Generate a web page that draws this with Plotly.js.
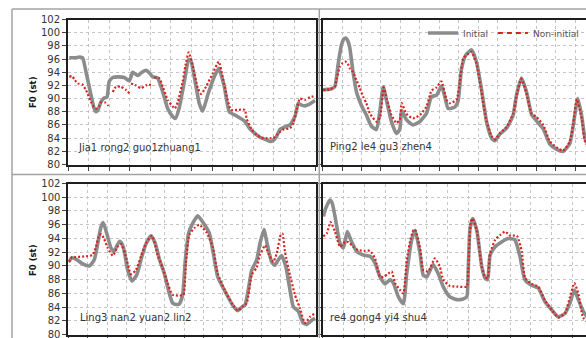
<!DOCTYPE html>
<html>
<head>
<meta charset="utf-8">
<script src="https://cdn.plot.ly/plotly-3.0.1.min.js"></script>
<style>
html,body{margin:0;padding:0;overflow:hidden;background:#fff;}
#chart{width:640px;height:338px;}
</style>
</head>
<body>
<div id="chart"></div>
<script>
// ---------------- DATA (x in tenths of a grid step, y = F0 in semitones) ----------------
// Panel 1: Jia1 rong2 guo1zhuang1
const x_tl_init = [0.6,3.4,5.8,7.1,8.7,11.2,12.6,13.6,14.6,16.0,17.5,18.9,20.0,21.7,24.3,27.3,29.8,31.4,33.8,35.9,37.9,39.8,41.1,43.5,46.0,48.4,50.8,52.2,54.0,56.5,58.6,59.5,61.3,63.7,65.4,67.8,71.0,73.2,75.9,78.3,81.6,84.8,86.4,88.3,90.0,91.6,93.3,95.9,98.1,99.5,101.2,102.9,105.3,107.8,110.2,111.8,113.4,115.0,117.5,119.9];
const y_tl_init = [96.2,96.2,96.3,96.2,94.1,90.5,88.6,88.0,88.3,89.5,90.1,90.2,92.6,93.2,93.3,93.2,92.7,94.0,93.5,94.0,94.3,93.8,93.3,93.1,91.0,88.5,87.3,87.0,88.6,92.6,95.9,95.9,93.3,89.3,88.1,90.5,93.3,94.6,91.8,88.0,87.4,86.8,86.3,85.4,84.9,84.5,84.1,83.8,83.5,83.6,84.2,85.3,85.7,86.0,87.3,89.3,89.0,88.9,89.2,89.7];
const x_tl_non = [0.6,1.9,3.4,4.7,7.1,8.7,11.2,12.6,13.8,15.0,16.0,18.0,19.4,20.4,null,21.7,23.3,25.7,28.2,29.8,null,30.6,33.0,35.4,37.9,40.3,null,41.9,44.3,46.0,48.4,50.8,51.9,53.3,55.7,57.0,58.6,60.5,63.0,64.6,67.0,70.2,73.2,75.1,77.5,79.1,83.0,85.9,86.7,89.2,91.6,93.7,96.5,99.7,101.3,104.5,107.8,109.4,111.0,112.6,115.0,117.5,119.9];
const y_tl_non = [93.3,93.4,92.8,92.3,92.1,91.3,89.5,88.7,88.5,88.8,89.4,89.4,89.0,89.2,null,91.0,91.8,91.8,91.3,90.8,null,92.3,92.0,91.6,92.0,92.1,null,93.2,93.1,91.8,89.8,88.8,88.5,89.5,92.6,95.0,97.0,95.1,91.6,90.7,91.8,93.8,95.6,93.3,89.8,88.3,88.3,88.3,87.0,85.3,84.5,84.1,84.0,84.0,84.5,85.3,85.5,86.3,88.3,90.0,89.8,90.2,90.4];

// Panel 2: Ping2 le4 gu3 zhen4
const x_tr_init = [0.2,2.1,3.6,6.2,7.9,9.6,10.8,11.9,12.9,13.9,15.6,17.4,19.9,22.5,25.1,27.7,29.4,31.2,32.8,35.4,38.0,39.7,40.7,43.1,46.5,50.0,53.5,56.0,58.6,61.2,62.9,64.6,68.0,69.7,71.5,73.7,76.6,79.2,81.8,84.4,87.0,88.7,91.2,94.7,98.1,99.8,102.4,105.0,107.6,110.2,113.6,117.0,120.5,123.9,127.3,129.0,131.4,133.4,135.1,137.6];
const y_tr_init = [91.3,91.4,91.4,91.8,95.1,98.1,99.0,99.2,98.8,97.8,94.1,91.0,89.0,87.5,85.8,85.3,88.0,91.8,89.8,86.5,84.7,85.3,88.2,86.8,86.0,86.5,87.8,90.3,90.5,91.9,90.3,88.5,88.7,89.6,94.5,96.6,97.4,95.6,91.4,86.5,84.0,83.6,84.6,85.5,87.5,90.5,93.1,91.0,87.6,86.6,85.4,83.1,82.3,82.0,83.2,85.8,90.0,87.4,84.0,82.5];
const x_tr_non = [0.2,3.6,6.2,7.2,8.8,10.3,11.6,12.9,13.9,15.6,17.4,19.1,20.8,22.5,24.2,27.7,29.6,31.4,33.0,35.4,38.0,39.7,40.7,43.1,46.5,50.0,53.5,56.0,58.6,61.2,63.8,65.5,68.9,70.6,72.3,73.7,76.6,79.2,81.8,84.4,87.0,88.7,91.2,94.7,98.1,99.8,102.3,105.0,107.6,110.2,113.6,117.0,120.5,123.9,127.3,129.0,130.9,133.4,135.1,137.6];
const y_tr_non = [91.3,91.4,91.8,93.0,94.8,95.4,95.6,95.3,94.6,94.0,92.8,91.6,90.3,89.3,87.8,86.5,87.2,91.7,90.0,87.5,86.3,86.8,89.3,87.7,87.0,87.5,88.8,91.2,91.7,92.6,89.8,89.3,89.8,92.5,96.0,96.5,97.1,95.3,91.0,86.6,84.3,83.8,84.7,85.7,87.7,90.3,93.0,90.8,87.7,87.2,86.0,83.5,82.6,82.1,83.5,86.0,89.9,87.0,83.5,82.3];

// Panel 3: Ling3 nan2 yuan2 lin2
const x_bl_init = [0.1,1.9,3.9,7.4,10.8,13.4,15.2,16.9,18.1,19.8,22.1,23.8,25.2,26.6,27.8,29.0,30.7,33.0,35.4,38.1,40.2,42.8,45.0,47.1,49.7,52.3,54.0,55.7,57.5,59.2,60.6,62.3,64.4,67.0,69.6,73.0,74.8,77.4,80.8,85.1,87.7,90.3,91.5,93.2,95.0,97.6,99.3,101.3,103.1,105.3,107.0,108.8,110.5,112.7,114.8,116.5,119.1,121.7,123.5,126.1,127.8];
const y_bl_init = [90.6,91.2,91.0,90.3,90.0,90.9,93.3,95.7,96.3,94.8,92.6,92.1,93.0,93.6,93.2,92.1,89.4,87.8,88.7,91.4,93.2,94.4,93.3,91.0,88.9,86.0,84.6,84.4,84.5,85.8,90.9,94.8,96.2,97.3,96.4,94.8,92.3,88.4,86.5,84.3,83.5,84.1,84.3,86.5,89.4,90.9,93.3,95.3,93.1,90.6,90.1,90.9,91.5,89.9,86.5,84.1,83.4,81.7,81.5,82.1,82.4];
const x_bl_non = [0.1,1.9,3.9,9.1,12.6,14.3,16.0,17.1,18.4,20.4,23.0,25.5,27.3,29.8,32.4,35.0,37.6,40.2,43.3,46.3,48.9,51.4,54.0,57.5,59.6,60.9,62.6,65.2,67.8,71.3,74.8,77.4,80.8,85.1,87.7,90.3,92.4,95.0,97.6,99.3,101.9,103.6,106.2,107.9,110.0,110.9,112.2,114.8,117.4,120.0,122.6,125.2,127.8];
const y_bl_non = [90.6,91.3,91.3,91.4,91.6,92.8,94.5,94.6,94.0,92.6,91.5,92.8,93.2,91.4,88.8,89.4,91.4,93.3,94.4,91.6,89.7,87.5,85.8,85.7,85.8,90.4,94.5,95.5,96.0,95.0,92.8,88.9,86.6,84.4,83.5,84.1,84.6,88.7,89.8,91.6,93.0,91.8,90.6,91.8,94.5,94.7,92.1,88.7,85.8,83.8,81.7,82.6,83.1];

// Panel 4: re4 gong4 yi4 shu4
const x_br_init = [0.4,1.7,3.6,4.6,6.0,8.4,10.0,11.9,14.0,16.4,19.6,22.8,25.2,27.6,30.0,32.4,34.0,36.4,38.8,40.4,42.8,44.4,46.8,48.3,50.0,53.1,55.5,57.9,61.1,64.4,67.4,69.2,69.9,70.7,72.0,74.0,76.4,78.0,79.2,80.4,82.8,85.9,89.1,92.3,94.7,97.1,100.3,103.5,106.7,110.0,113.1,116.3,118.7,120.8,122.7,125.1,128.4];
const y_br_init = [97.2,98.5,99.6,99.2,97.2,93.3,92.6,95.0,93.5,92.1,91.6,91.4,90.4,88.4,87.4,88.0,87.5,85.5,84.5,88.9,93.8,95.2,91.8,88.7,88.4,90.2,88.9,87.0,85.5,85.1,85.2,85.5,89.4,95.2,96.9,95.2,89.9,88.2,88.0,91.6,92.8,93.5,94.0,93.8,91.4,88.0,87.2,86.8,84.8,83.6,82.6,83.1,84.6,86.5,85.1,83.4,82.0];
const x_br_non = [0.4,2.0,3.9,6.0,8.4,10.8,12.4,14.8,17.2,20.4,22.8,25.2,27.6,29.2,31.6,33.2,34.8,37.2,38.8,40.4,42.3,43.6,44.4,46.8,48.3,50.7,53.9,56.3,57.9,61.1,64.9,69.2,69.9,71.1,72.0,74.0,76.4,78.0,79.2,80.4,82.8,85.2,87.6,90.0,93.2,95.6,97.1,100.3,103.5,106.7,110.0,113.1,116.3,118.7,120.8,122.7,125.0,128.4];
const y_br_non = [94.3,94.7,96.4,95.0,92.8,93.5,93.5,92.8,92.3,92.2,92.2,91.1,88.4,88.4,88.9,89.2,87.5,86.5,86.0,90.8,94.0,95.2,95.3,92.6,89.4,89.2,91.1,89.9,88.0,87.1,87.0,87.0,89.4,96.4,96.9,95.2,89.9,88.4,88.2,91.8,93.8,94.5,95.0,94.4,94.4,92.1,88.3,87.4,87.0,85.0,83.6,82.5,83.1,85.5,87.5,86.0,82.5,81.5];

const syllableLabels = ["Jia1 rong2 guo1zhuang1","Ping2 le4 gu3 zhen4","Ling3 nan2 yuan2 lin2","re4 gong4 yi4 shu4"];
const seriesNames = ["Initial","Non-initial"];
const yTitle = "F0 (st)";
const yRange = [80,102];

// ---------------- STYLE / LAYOUT ----------------
const W = 640, H = 338;
const GRAY = '#8c8c8c', RED = '#d8231f';
const dx = (a,b)=>[a/W,b/W];
const dy = (t,b)=>[1-b/H,1-t/H];

function initTrace(x,y,ax){
  return {x:x,y:y,xaxis:'x'+ax,yaxis:'y'+ax,type:'scatter',mode:'lines',name:seriesNames[0],
    showlegend:false,connectgaps:false,line:{color:GRAY,width:3.6,shape:'spline',smoothing:0.5},hoverinfo:'skip'};
}
function nonTrace(x,y,ax){
  return {x:x,y:y,xaxis:'x'+ax,yaxis:'y'+ax,type:'scatter',mode:'lines',name:seriesNames[1],
    showlegend:false,connectgaps:false,line:{color:RED,width:2.2,dash:'2px,2px',shape:'spline',smoothing:0.5},hoverinfo:'skip'};
}
const data = [
  initTrace(x_tl_init,y_tl_init,''), nonTrace(x_tl_non,y_tl_non,''),
  initTrace(x_tr_init,y_tr_init,'2'), nonTrace(x_tr_non,y_tr_non,'2'),
  initTrace(x_bl_init,y_bl_init,'3'), nonTrace(x_bl_non,y_bl_non,'3'),
  initTrace(x_br_init,y_br_init,'4'), nonTrace(x_br_non,y_br_non,'4'),
  // legend entries
  {x:[null],y:[null],xaxis:'x2',yaxis:'y2',type:'scatter',mode:'lines',name:seriesNames[0],line:{color:GRAY,width:3.6}},
  {x:[null],y:[null],xaxis:'x2',yaxis:'y2',type:'scatter',mode:'lines',name:seriesNames[1],line:{color:RED,width:2,dash:'5px,4px'}}
];

const tickFont = {family:'DejaVu Sans, Verdana, sans-serif',size:10,color:'#333'};
function xAx(dom,range,anchor){
  return {domain:dom,range:range,anchor:anchor,dtick:10,tick0:0,showticklabels:false,
    showgrid:true,gridcolor:'#c4c4c4',griddash:'dot',gridwidth:1,zeroline:false,
    showline:true,mirror:true,linecolor:'#1e1e1e',linewidth:2,
    ticks:'outside',ticklen:4,tickcolor:'#444',tickwidth:1,fixedrange:true};
}
function yAx(dom,anchor,labels){
  return {domain:dom,range:yRange,anchor:anchor,dtick:2,tick0:80,showticklabels:labels,tickfont:tickFont,
    ticklabeloverflow:'allow',
    showgrid:true,gridcolor:'#c4c4c4',griddash:'dot',gridwidth:1,zeroline:false,
    showline:true,mirror:true,linecolor:'#1e1e1e',linewidth:2,
    ticks:'outside',ticklen:4,tickcolor:'#444',tickwidth:1,fixedrange:true};
}

const annFont = {family:'DejaVu Sans, Verdana, sans-serif',size:10,color:'#333'};
const titleFont = {family:'DejaVu Sans, Verdana, sans-serif',size:8.5,color:'#111',weight:'bold'};
const annotations = [
  {text:syllableLabels[0],x:76/W,y:1-147/H},
  {text:syllableLabels[1],x:328/W,y:1-146/H},
  {text:syllableLabels[2],x:77.5/W,y:1-317/H},
  {text:syllableLabels[3],x:328/W,y:1-317/H}
].map(a=>Object.assign(a,{xref:'paper',yref:'paper',xanchor:'left',yanchor:'middle',showarrow:false,font:annFont}));
annotations.push({text:'<b>'+yTitle+'</b>',x:33/W,y:1-92/H,xref:'paper',yref:'paper',textangle:-90,showarrow:false,font:titleFont,xanchor:'center',yanchor:'middle'});
annotations.push({text:'<b>'+yTitle+'</b>',x:33/W,y:1-260/H,xref:'paper',yref:'paper',textangle:-90,showarrow:false,font:titleFont,xanchor:'center',yanchor:'middle'});

const lineStyle = {color:'#a3a3a3',width:1.5};
const shapes = [
  {type:'line',xref:'paper',yref:'paper',x0:12/W,x1:1,y0:1-9/H,y1:1-9/H,line:lineStyle},
  {type:'line',xref:'paper',yref:'paper',x0:12/W,x1:1,y0:1-174.5/H,y1:1-174.5/H,line:lineStyle},
  {type:'line',xref:'paper',yref:'paper',x0:12/W,x1:12/W,y0:0,y1:1-9/H,line:lineStyle},
  {type:'line',xref:'paper',yref:'paper',x0:319.3/W,x1:319.3/W,y0:0,y1:1-9/H,line:lineStyle}
];

const layout = {
  width:W,height:H,margin:{l:0,r:0,t:0,b:0},
  paper_bgcolor:'#fff',plot_bgcolor:'#fff',
  showlegend:true,
  legend:{orientation:'h',x:423/W,y:1-33/H,xanchor:'left',yanchor:'middle',
    font:{family:'DejaVu Sans, Verdana, sans-serif',size:9,color:'#555'},bgcolor:'rgba(255,255,255,0)',
    itemwidth:30,tracegroupgap:0},
  xaxis:xAx(dx(68,316),[0,120.4],'y'),
  yaxis:yAx(dy(19.5,164.5),'x',true),
  xaxis2:xAx(dx(322.7,630),[0,158.3],'y2'),
  yaxis2:yAx(dy(19.5,164.5),'x2',false),
  xaxis3:xAx(dx(68.4,316),[0,128.3],'y3'),
  yaxis3:yAx(dy(183.5,334.7),'x3',true),
  xaxis4:xAx(dx(322.5,630),[0,147.5],'y4'),
  yaxis4:yAx(dy(183.5,334.7),'x4',false),
  annotations:annotations,
  shapes:shapes
};

Plotly.newPlot('chart',data,layout,{displayModeBar:false,staticPlot:true});
</script>
</body>
</html>
